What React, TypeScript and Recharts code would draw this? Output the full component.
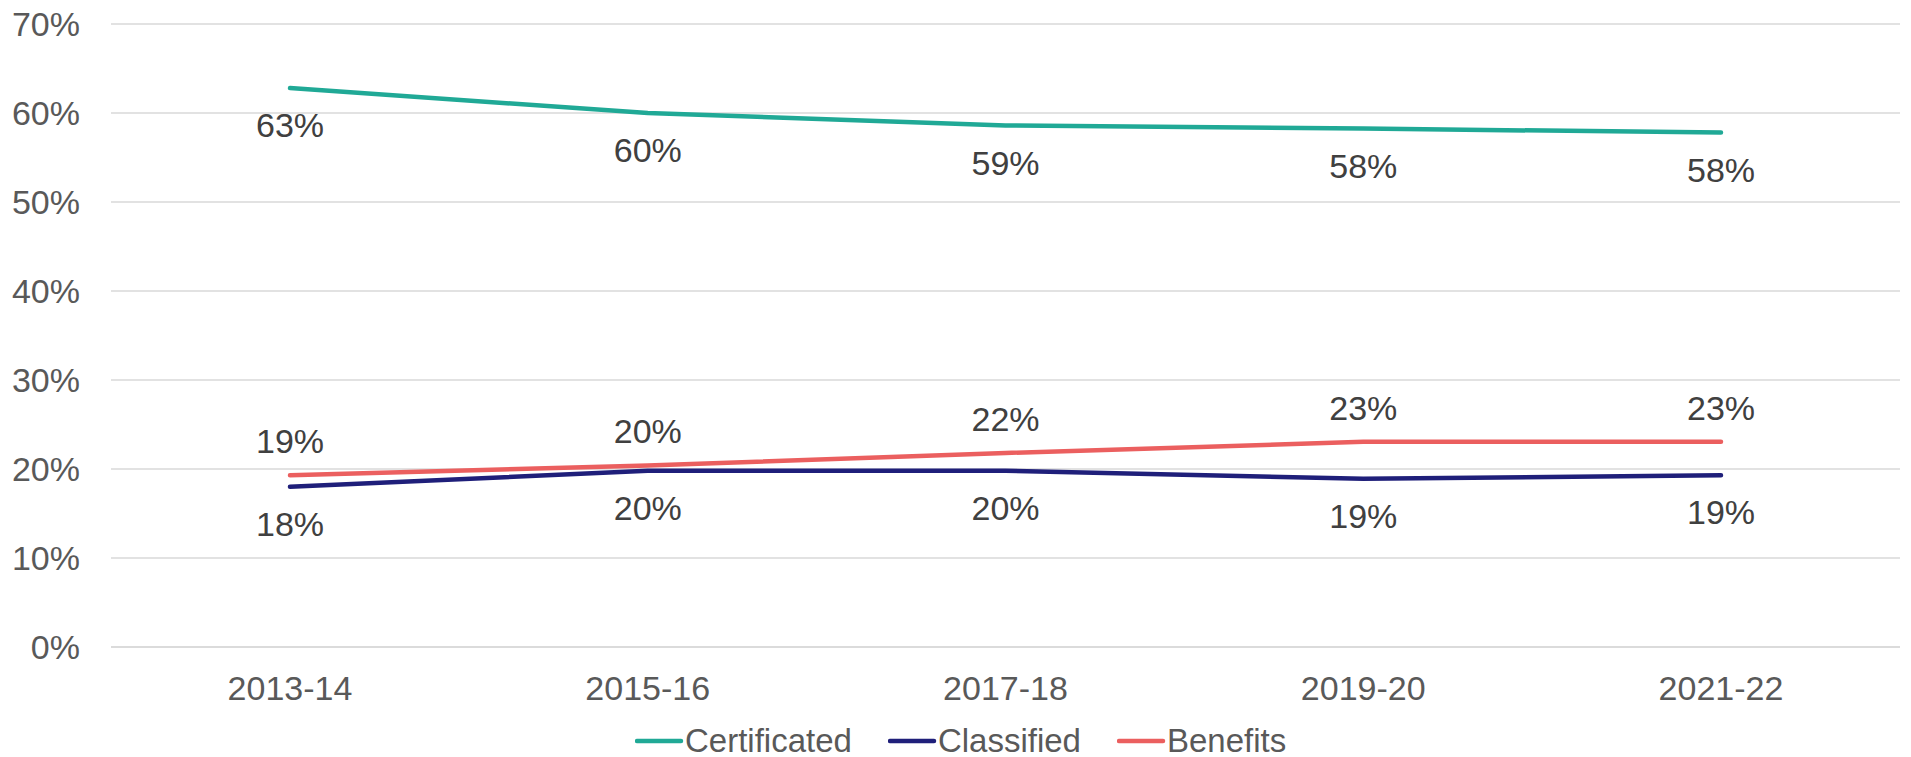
import React from "react";
import {
  LineChart,
  Line,
  XAxis,
  YAxis,
  CartesianGrid,
  Legend,
  LabelList,
} from "recharts";

const categories = ["2013-14", "2015-16", "2017-18", "2019-20", "2021-22"];
const certificated = [62.8, 60.0, 58.6, 58.25, 57.8];
const classified = [18.0, 19.8, 19.8, 18.9, 19.3];
const benefits = [19.3, 20.4, 21.8, 23.05, 23.05];
const yTicks = [0, 10, 20, 30, 40, 50, 60, 70];

const seriesInfo = [
  { key: "Certificated", color: "#20A996" },
  { key: "Classified", color: "#1F1F7A" },
  { key: "Benefits", color: "#EB5F5F" },
];

const data = categories.map((c, i) => ({
  cat: c,
  Certificated: certificated[i],
  Classified: classified[i],
  Benefits: benefits[i],
}));

const FONT = "'Liberation Sans', Arial, sans-serif";

const fmt = (v: any) => `${Math.round(Number(v))}%`;

const LegendContent = () => (
  <div
    style={{
      display: "flex",
      alignItems: "center",
      fontFamily: FONT,
      fontSize: 33,
      color: "#595959",
      lineHeight: "40px",
      height: 40,
    }}
  >
    {seriesInfo.map((s, i) => (
      <div
        key={s.key}
        style={{
          display: "flex",
          alignItems: "center",
          marginLeft: i === 0 ? 0 : 36,
        }}
      >
        <svg width={50} height={8} style={{ display: "block" }}>
          <line
            x1={2}
            y1={4}
            x2={46}
            y2={4}
            stroke={s.color}
            strokeWidth={4.5}
            strokeLinecap="round"
          />
        </svg>
        <span>{s.key}</span>
      </div>
    ))}
  </div>
);

const labelStyle = { fontFamily: FONT, fontSize: 34, fill: "#404040" };
const tickStyle = { fontFamily: FONT, fontSize: 34, fill: "#595959" };

export default function App() {
  return (
    <div style={{ position: "absolute", left: 0, top: 0, background: "#fff" }}>
      <LineChart
        width={1911}
        height={757}
        data={data}
        margin={{ top: 24, right: 11, left: 0, bottom: 0 }}
      >
        <CartesianGrid
          horizontal={true}
          vertical={false}
          stroke="#D9D9D9"
          strokeWidth={1.5}
        />
        <XAxis
          dataKey="cat"
          height={110}
          padding={{ left: 179, right: 179 }}
          axisLine={{ stroke: "#D9D9D9", strokeWidth: 1.5 }}
          tickLine={false}
          tickSize={0}
          tickMargin={29}
          tick={tickStyle}
        />
        <YAxis
          width={111}
          domain={[0, 70]}
          ticks={yTicks}
          interval={0}
          axisLine={false}
          tickLine={false}
          tickSize={0}
          tickMargin={31}
          tickFormatter={(v: any) => `${v}%`}
          tick={tickStyle}
        />
        <Legend
          layout="horizontal"
          verticalAlign="middle"
          align="center"
          content={<LegendContent />}
          wrapperStyle={{ top: 721, left: 635, width: 800, height: 40 }}
        />
        <Line
          type="linear"
          dataKey="Certificated"
          stroke="#20A996"
          strokeWidth={4.5}
          strokeLinecap="round"
          dot={false}
          activeDot={false}
          isAnimationActive={false}
        >
          <LabelList
            dataKey="Certificated"
            position="bottom"
            offset={25}
            formatter={fmt}
            style={labelStyle}
          />
        </Line>
        <Line
          type="linear"
          dataKey="Classified"
          stroke="#1F1F7A"
          strokeWidth={4.5}
          strokeLinecap="round"
          dot={false}
          activeDot={false}
          isAnimationActive={false}
        >
          <LabelList
            dataKey="Classified"
            position="bottom"
            offset={25}
            formatter={fmt}
            style={labelStyle}
          />
        </Line>
        <Line
          type="linear"
          dataKey="Benefits"
          stroke="#EB5F5F"
          strokeWidth={4.5}
          strokeLinecap="round"
          dot={false}
          activeDot={false}
          isAnimationActive={false}
        >
          <LabelList
            dataKey="Benefits"
            position="top"
            offset={22}
            formatter={fmt}
            style={labelStyle}
          />
        </Line>
      </LineChart>
    </div>
  );
}
